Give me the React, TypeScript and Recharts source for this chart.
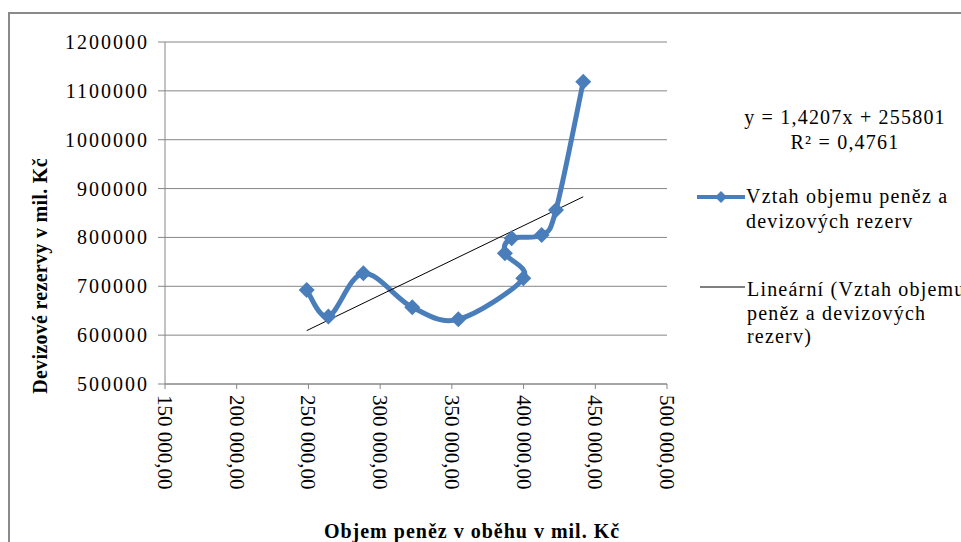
import { CartesianGrid, Legend, Line, LineChart, XAxis, YAxis } from "recharts";

// Objem peněz v oběhu (x) a devizové rezervy (y), v mil. Kč
const volumeX = [248800, 263900, 288300, 322400, 354500, 399800, 387000, 391700, 412600, 422600, 441600];
const reservesY = [692400, 638000, 726600, 657000, 632400, 716300, 767500, 798200, 805000, 856100, 1118700];

// lineární trend, koncové body
const trendX = [248800, 441600];
const trendY = [609300, 883200];

const xTicks = [150000, 200000, 250000, 300000, 350000, 400000, 450000, 500000];
const yTicks = [500000, 600000, 700000, 800000, 900000, 1000000, 1100000, 1200000];

const equationLines = ["y = 1,4207x + 255801", "R² = 0,4761"];
const seriesLegendLines = ["Vztah objemu peněz a", "devizových rezerv"];
const trendLegendLines = ["Lineární (Vztah objemu", "peněz a devizových", "rezerv)"];
const xTitle = "Objem peněz v oběhu v mil. Kč";
const yTitle = "Devizové rezervy v mil. Kč";

const BLUE = "#4a7ebb";
const GRID = "#868686";
const SERIF = '"Liberation Serif", "Times New Roman", serif';

const seriesData = volumeX.map((x, i) => ({ x, y: reservesY[i] }));
const trendData = trendX.map((x, i) => ({ x, y: trendY[i] }));

function formatCz(v: number) {
  return Math.round(v).toString().replace(/\B(?=(\d{3})+(?!\d))/g, " ") + ",00";
}

// Excel-like smoothed line (Catmull-Rom through the points, in data order)
function smoothCurve(context: any) {
  let pts: number[][] = [];
  return {
    areaStart() {},
    areaEnd() {},
    lineStart() {
      pts = [];
    },
    point(x: number, y: number) {
      pts.push([+x, +y]);
    },
    lineEnd() {
      if (!pts.length) return;
      context.moveTo(pts[0][0], pts[0][1]);
      const t = 1 / 6;
      for (let i = 0; i < pts.length - 1; i++) {
        const p0 = pts[Math.max(i - 1, 0)];
        const p1 = pts[i];
        const p2 = pts[i + 1];
        const p3 = pts[Math.min(i + 2, pts.length - 1)];
        context.bezierCurveTo(
          p1[0] + (p2[0] - p0[0]) * t,
          p1[1] + (p2[1] - p0[1]) * t,
          p2[0] - (p3[0] - p1[0]) * t,
          p2[1] - (p3[1] - p1[1]) * t,
          p2[0],
          p2[1]
        );
      }
    },
  };
}

const diamond = (cx: number, cy: number, r: number) =>
  `M${cx},${cy - r} L${cx + r},${cy} L${cx},${cy + r} L${cx - r},${cy} Z`;

const renderDot = (props: any) => {
  const { cx, cy, index } = props;
  if (cx == null || cy == null) return <g key={index} />;
  return <path key={index} d={diamond(cx, cy, 8)} fill={BLUE} />;
};

const XTick = ({ x, y, payload }: any) => (
  <text
    transform={`translate(${x},${y}) rotate(90)`}
    x={0}
    y={0}
    dominantBaseline="central"
    textAnchor="start"
    fill="#000"
    fontSize={21}
    fontFamily={SERIF}
  >
    {formatCz(payload.value)}
  </text>
);

const YTick = ({ x, y, payload }: any) => (
  <text
    x={x}
    y={y}
    dominantBaseline="central"
    textAnchor="end"
    fill="#000"
    fontSize={20}
    fontFamily={SERIF}
    letterSpacing={2}
  >
    {payload.value}
  </text>
);

function Overlay() {
  const txt = { fontFamily: SERIF, fontSize: 20, fill: "#000", letterSpacing: 1.2 };
  return (
    <svg width={961} height={542} style={{ display: "block" }}>
      {equationLines.map((l, i) => (
        <text key={l} x={845} y={124 + i * 25} textAnchor="middle" {...txt}>
          {l}
        </text>
      ))}
      <line x1={697} x2={745} y1={197} y2={197} stroke={BLUE} strokeWidth={4} />
      <path d={diamond(721, 197, 6)} fill={BLUE} />
      {seriesLegendLines.map((l, i) => (
        <text key={l} x={746} y={203 + i * 25} {...txt}>
          {l}
        </text>
      ))}
      <line x1={700} x2={745} y1={287} y2={287} stroke="#000" strokeWidth={1} />
      {trendLegendLines.map((l, i) => (
        <text key={l} x={747} y={296 + i * 23.5} {...txt}>
          {l}
        </text>
      ))}
      <text
        transform="translate(47,276) rotate(-90)"
        textAnchor="middle"
        {...txt}
        fontWeight="bold"
        letterSpacing={0.3}
      >
        {yTitle}
      </text>
      <text x={472} y={538} textAnchor="middle" {...txt} fontWeight="bold" letterSpacing={1}>
        {xTitle}
      </text>
    </svg>
  );
}

export default function App() {
  return (
    <div
      style={{
        position: "fixed",
        left: 0,
        top: 0,
        width: 961,
        height: 542,
        overflow: "hidden",
        background: "#fff",
      }}
    >
      <div
        style={{
          position: "absolute",
          left: 8,
          top: 12,
          width: 1100,
          height: 700,
          border: "2px solid #8a8a8a",
        }}
      />
      <div style={{ position: "absolute", left: 0, top: 0 }}>
        <LineChart width={961} height={542} margin={{ top: 42, right: 294, bottom: 8, left: 5 }}>
          <CartesianGrid vertical={false} stroke={GRID} strokeWidth={1} />
          <XAxis
            type="number"
            dataKey="x"
            domain={[150000, 500000]}
            ticks={xTicks}
            interval={0}
            height={150}
            stroke={GRID}
            tickSize={5}
            tickMargin={6}
            tick={<XTick />}
          />
          <YAxis
            type="number"
            dataKey="y"
            domain={[500000, 1200000]}
            ticks={yTicks}
            interval={0}
            width={160}
            stroke={GRID}
            tickSize={7}
            tickMargin={9}
            tick={<YTick />}
          />
          <Line
            data={seriesData}
            dataKey="y"
            type={smoothCurve as any}
            stroke={BLUE}
            strokeWidth={5}
            strokeLinejoin="round"
            dot={renderDot}
            activeDot={false}
            isAnimationActive={false}
          />
          <Line
            data={trendData}
            dataKey="y"
            type="linear"
            stroke="#000"
            strokeWidth={1}
            dot={false}
            activeDot={false}
            isAnimationActive={false}
          />
          <Legend
            layout="vertical"
            align="center"
            verticalAlign="middle"
            wrapperStyle={{ left: 0, top: 0, width: 961, height: 542, pointerEvents: "none" }}
            content={() => <Overlay />}
          />
        </LineChart>
      </div>
    </div>
  );
}
